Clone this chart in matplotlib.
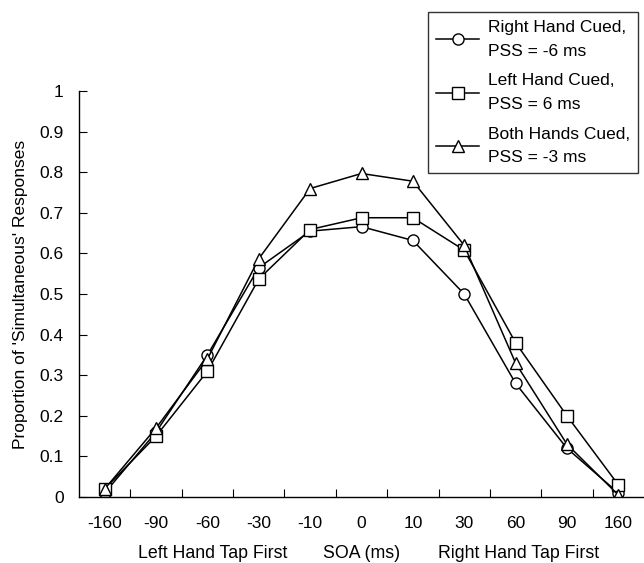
import matplotlib
matplotlib.use("Agg")
import matplotlib.pyplot as plt

soa_labels = ["-160", "-90", "-60", "-30", "-10", "0", "10", "30", "60", "90", "160"]
right_cued = [0.01, 0.16, 0.35, 0.565, 0.655, 0.666, 0.632, 0.50, 0.28, 0.12, 0.01]
left_cued = [0.02, 0.15, 0.31, 0.537, 0.659, 0.688, 0.688, 0.608, 0.38, 0.20, 0.03]
both_cued = [0.02, 0.17, 0.34, 0.587, 0.760, 0.797, 0.778, 0.620, 0.33, 0.13, 0.005]
series_labels = ["Right Hand Cued,\nPSS = -6 ms", "Left Hand Cued,\nPSS = 6 ms",
                 "Both Hands Cued,\nPSS = -3 ms"]
y_ticks = [0, 0.1, 0.2, 0.3, 0.4, 0.5, 0.6, 0.7, 0.8, 0.9, 1]
y_ticklabels = ["0", "0.1", "0.2", "0.3", "0.4", "0.5", "0.6", "0.7", "0.8", "0.9", "1"]

plt.rcParams['font.family'] = ['Liberation Sans', 'DejaVu Sans']
FS = 12.5

fig = plt.figure(figsize=(6.44, 5.63), dpi=100)
ax = fig.add_axes([0.1227, 0.1172, 0.8773, 0.7210])

x = list(range(len(soa_labels)))
common = dict(color='black', lw=1.1, markersize=8, markerfacecolor='white',
              markeredgecolor='black', markeredgewidth=1.0)
ax.plot(x, right_cued, marker='o', label=series_labels[0], **common)
ax.plot(x, left_cued, marker='s', label=series_labels[1], **common)
ax.plot(x, both_cued, marker='^', label=series_labels[2], **common)

ax.set_xlim(-0.5, 10.5)
ax.set_ylim(0, 1)
ax.spines['top'].set_visible(False)
ax.spines['right'].set_visible(False)
for s in ['left', 'bottom']:
    ax.spines[s].set_linewidth(1.0)

ax.set_yticks(y_ticks)
ax.set_yticklabels(y_ticklabels, fontsize=FS)
ax.tick_params(axis='y', direction='in', length=6, pad=11)

ax.set_xticks([i + 0.5 for i in range(10)])
ax.set_xticklabels([])
ax.tick_params(axis='x', direction='in', length=6)
for i, lab in enumerate(soa_labels):
    ax.text(i, -0.047, lab, ha='center', va='top', fontsize=FS)

ax.text(2.1, -0.150, "Left Hand Tap First", ha='center', va='baseline', fontsize=12.8)
ax.text(5.0, -0.150, "SOA (ms)", ha='center', va='baseline', fontsize=12.8)
ax.text(8.05, -0.150, "Right Hand Tap First", ha='center', va='baseline', fontsize=12.8)

ax.set_ylabel("Proportion of 'Simultaneous' Responses", fontsize=FS, labelpad=8)

leg = ax.legend(loc='upper right', bbox_to_anchor=(638 / 644, 1 - 12 / 563),
                bbox_transform=fig.transFigure, borderaxespad=0,
                frameon=True, fancybox=False, fontsize=FS, handlelength=2.45,
                handletextpad=0.5, borderpad=0.48, labelspacing=0.85)
for t in leg.get_texts():
    t.set_linespacing(1.7)
leg.get_frame().set_edgecolor('black')
leg.get_frame().set_linewidth(1.0)

fig.savefig("out.png", dpi=100)
